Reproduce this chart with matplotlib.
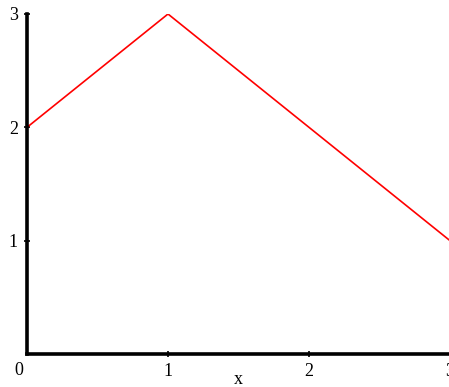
import matplotlib
matplotlib.use("Agg")
import matplotlib.pyplot as plt

x_vals = [0, 1, 3]
y_vals = [2, 3, 1]
x_ticks = [1, 2, 3]
y_ticks = [1, 2, 3]

W, H = 449, 387
fig = plt.figure(figsize=(W / 100, H / 100), dpi=100)
ax = fig.add_axes([27 / W, 33 / H, 423 / W, 340 / H])
ax.plot(x_vals, y_vals, color="red", lw=1.2)
ax.set_xlim(0, 3)
ax.set_ylim(0, 3)
for s in ["top", "right"]:
    ax.spines[s].set_visible(False)
for s in ["left", "bottom"]:
    ax.spines[s].set_linewidth(2.6)
ax.set_xticks(x_ticks)
ax.set_yticks(y_ticks)
ax.tick_params(direction="inout", length=5, width=1.2, pad=4,
               labelsize=13, labelfontfamily="Liberation Serif")
ax.text(-0.03, -0.07, "0", transform=ax.transData, ha="right", va="top",
        fontsize=13, family="Liberation Serif")
fig.text(238 / W, 3 / H, "x", ha="center", va="baseline",
         fontsize=13, family="Liberation Serif")
fig.savefig("out.png", dpi=100)
